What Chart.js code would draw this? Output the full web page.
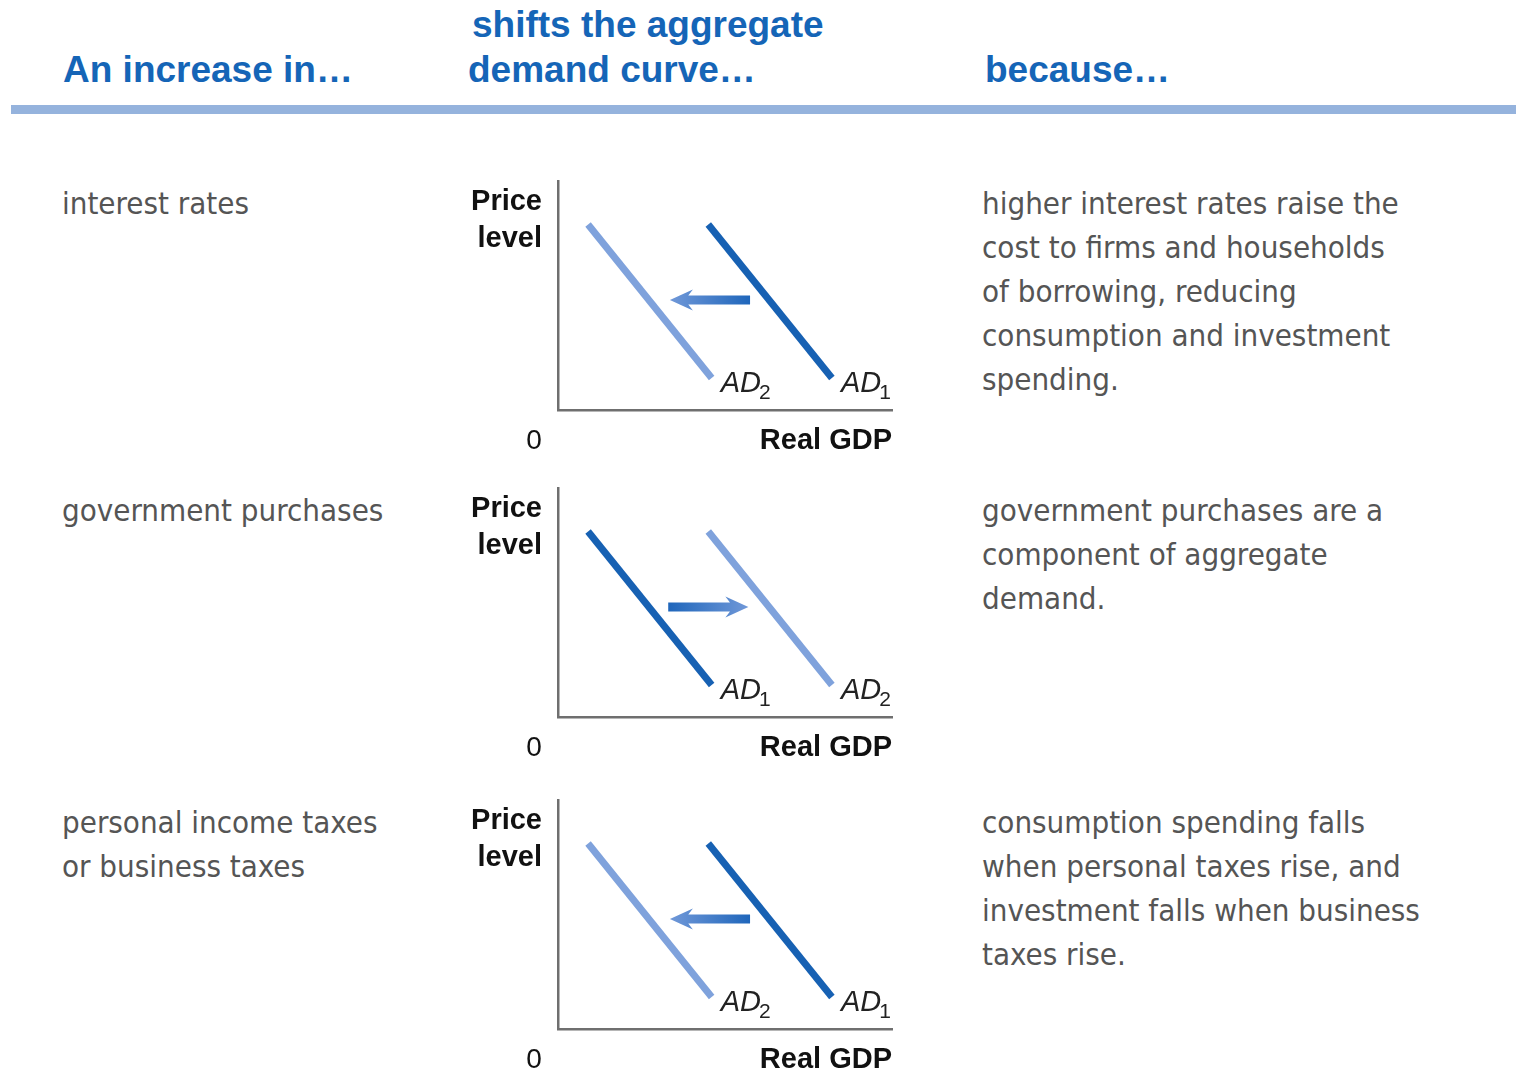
<!DOCTYPE html>
<html>
<head>
<meta charset="utf-8">
<script src="https://cdn.jsdelivr.net/npm/chart.js@4.4.1/dist/chart.umd.min.js"></script>
<style>
  html,body{margin:0;padding:0;background:#fff;width:1516px;height:1070px;overflow:hidden;position:relative;}
  .hd{position:absolute;font-family:"Liberation Sans",Arial,sans-serif;font-weight:bold;font-size:37px;color:#1565b7;line-height:44px;white-space:nowrap;}
  .band{position:absolute;left:11px;top:105px;width:1505px;height:9px;background:#95b3dd;}
  .txt{position:absolute;font-family:"DejaVu Sans",sans-serif;font-stretch:condensed;font-size:31px;color:#555;line-height:44px;white-space:pre;}
  canvas{position:absolute;}
</style>
</head>
<body>
<div class="hd" style="left:63px;top:48px">An increase in…</div>
<div class="hd" style="left:472px;top:3px">shifts the aggregate</div>
<div class="hd" style="left:468px;top:48px">demand curve…</div>
<div class="hd" style="left:985px;top:48px">because…</div>
<div class="band"></div>
<div id="rows"></div>
<script>
// rows of the table
const causes = ['interest rates', 'government purchases', 'personal income taxes\nor business taxes'];
const reasons = [
  'higher interest rates raise the\ncost to firms and households\nof borrowing, reducing\nconsumption and investment\nspending.',
  'government purchases are a\ncomponent of aggregate\ndemand.',
  'consumption spending falls\nwhen personal taxes rise, and\ninvestment falls when business\ntaxes rise.'
];
const rowTop = [181, 488, 800]; // top of each small chart box

// AD curves (x 0..10 real GDP, y 0..10 price level)
const leftCurveX = [0.9, 4.6];
const rightCurveX = [4.5, 8.2];
const curveY = [8.1, 1.4];
const leftSub = ['2', '1', '2'];
const rightSub = ['1', '2', '1'];
const leftDark = [false, true, false];

// shift arrows
const arrowFrom = [5.75, 3.3, 5.75];
const arrowTo = [3.35, 5.7, 3.35];
const arrowY = [4.8, 4.8, 4.8];

const DARK = '#1761b3', LIGHT = '#7fa2dc', AXIS = '#6f6f6f';

const rows = document.getElementById('rows');
causes.forEach((c, i) => {
  const a = document.createElement('div'); a.className = 'txt';
  a.style.left = '62px'; a.style.top = rowTop[i] + 'px'; a.textContent = c;
  rows.appendChild(a);
  const b = document.createElement('div'); b.className = 'txt';
  b.style.left = '982px'; b.style.top = rowTop[i] + 'px'; b.textContent = reasons[i];
  rows.appendChild(b);
});

const adLabels = {
  id: 'adLabels',
  afterDatasetsDraw(chart, args, o) {
    const {ctx, chartArea: ca, scales: {x, y}} = chart;
    const i = o.idx;
    ctx.save();
    // shift arrow
    const x0 = x.getPixelForValue(arrowFrom[i]), x1 = x.getPixelForValue(arrowTo[i]);
    const py = y.getPixelForValue(arrowY[i]);
    const dir = Math.sign(x1 - x0);
    const g = ctx.createLinearGradient(x0, 0, x1, 0);
    g.addColorStop(0, '#1f66bb'); g.addColorStop(1, '#7098d8');
    ctx.fillStyle = g;
    const headL = 23, headH = 10.5, shaft = 4.5;
    ctx.beginPath();
    ctx.moveTo(x0, py - shaft);
    ctx.lineTo(x1 - dir * headL * 0.8, py - shaft);
    ctx.lineTo(x1 - dir * headL, py - headH);
    ctx.lineTo(x1, py);
    ctx.lineTo(x1 - dir * headL, py + headH);
    ctx.lineTo(x1 - dir * headL * 0.8, py + shaft);
    ctx.lineTo(x0, py + shaft);
    ctx.closePath(); ctx.fill();
    // curve labels
    const lab = (xv, sub) => {
      const px = x.getPixelForValue(xv) + 9, by = y.getPixelForValue(curveY[1]) + 14;
      ctx.fillStyle = '#222';
      ctx.font = 'italic 29px "Liberation Sans", Arial, sans-serif';
      ctx.textAlign = 'left'; ctx.textBaseline = 'alphabetic';
      ctx.fillText('AD', px, by);
      const w = ctx.measureText('AD').width;
      ctx.font = '21px "Liberation Sans", Arial, sans-serif';
      ctx.fillText(sub, px + w - 2, by + 7);
    };
    lab(leftCurveX[1], leftSub[i]);
    lab(rightCurveX[1], rightSub[i]);
    // axis titles
    ctx.fillStyle = '#111';
    ctx.font = 'bold 29px "Liberation Sans", Arial, sans-serif';
    ctx.textAlign = 'right';
    ctx.fillText('Price', ca.left - 16, ca.top + 29);
    ctx.fillText('level', ca.left - 16, ca.top + 66);
    ctx.fillText('Real GDP', ca.right, ca.bottom + 39);
    ctx.font = '28px "Liberation Sans", Arial, sans-serif';
    ctx.textAlign = 'center';
    ctx.fillText('0', ca.left - 24, ca.bottom + 39);
    ctx.restore();
  }
};

rowTop.forEach((top, i) => {
  const cv = document.createElement('canvas');
  cv.width = 450; cv.height = 285;
  cv.style.left = '460px'; cv.style.top = (top - 6) + 'px';
  cv.style.width = '450px'; cv.style.height = '285px';
  document.body.appendChild(cv);
  new Chart(cv, {
    type: 'line',
    data: {
      datasets: [
        {data: leftCurveX.map((v, k) => ({x: v, y: curveY[k]})), borderColor: leftDark[i] ? DARK : LIGHT},
        {data: rightCurveX.map((v, k) => ({x: v, y: curveY[k]})), borderColor: leftDark[i] ? LIGHT : DARK}
      ]
    },
    options: {
      responsive: false, animation: false,
      layout: {padding: {left: 98, right: 18, top: 6, bottom: 50}},
      elements: {line: {borderWidth: 7, borderCapStyle: 'butt'}, point: {radius: 0}},
      plugins: {legend: {display: false}, tooltip: {enabled: false}, adLabels: {idx: i}},
      scales: {
        x: {type: 'linear', min: 0, max: 10, ticks: {display: false}, grid: {display: false, drawTicks: false}, border: {display: true, color: AXIS, width: 2.5}},
        y: {type: 'linear', min: 0, max: 10, ticks: {display: false}, grid: {display: false, drawTicks: false}, border: {display: true, color: AXIS, width: 2.5}}
      }
    },
    plugins: [adLabels]
  });
});
</script>
</body>
</html>
